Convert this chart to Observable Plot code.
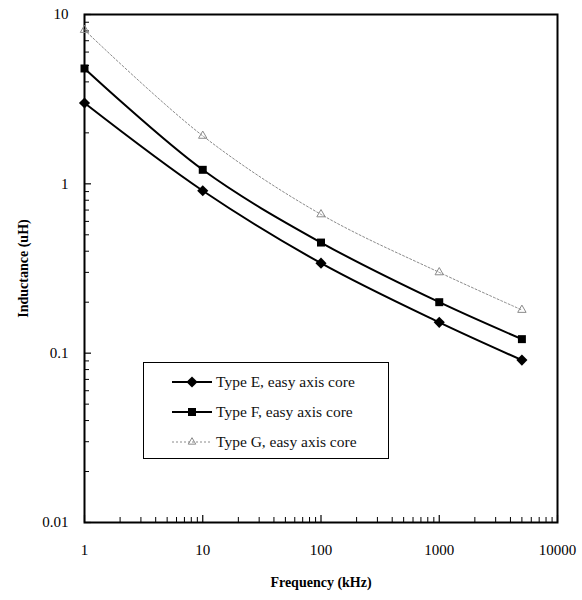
<!DOCTYPE html>
<html>
<head>
<meta charset="utf-8">
<script src="https://cdn.jsdelivr.net/npm/d3@7"></script>
<script src="https://cdn.jsdelivr.net/npm/@observablehq/plot@0.6"></script>
<style>
  html, body { margin: 0; padding: 0; background: #fff; }
  #wrap { position: relative; width: 582px; height: 600px; font-family: "Liberation Serif", serif; }
  #legend { position: absolute; left: 143px; top: 362px; width: 246px; height: 97px;
            border: 1.5px solid #000; background: #fff; box-sizing: border-box; }
  .row { position: absolute; left: 26px; height: 20px; display: flex; align-items: center; font-size: 15.5px; color: #111; }
  .row svg { margin-right: 2px; }
</style>
</head>
<body>
<div id="wrap"></div>
<script>
const freq = [1, 10, 100, 1000, 5000];
const typeE = [3.0, 0.91, 0.34, 0.152, 0.091];
const typeF = [4.8, 1.21, 0.45, 0.20, 0.121];
const typeG = [8.1, 1.92, 0.66, 0.30, 0.18];
const seriesNames = ["Type E, easy axis core", "Type F, easy axis core", "Type G, easy axis core"];
const xTicks = [1, 10, 100, 1000, 10000];
const xTickLabels = ["1", "10", "100", "1000", "10000"];
const yTicks = [0.01, 0.1, 1, 10];
const yTickLabels = ["0.01", "0.1", "1", "10"];

const rows = [];
[typeE, typeF, typeG].forEach((vals, i) => {
  vals.forEach((v, j) => rows.push({series: seriesNames[i], f: freq[j], L: v}));
});
const byS = s => rows.filter(r => r.series === s);

const minorX = [];
for (let d = 1; d < 10000; d *= 10) for (let k = 2; k <= 9; k++) minorX.push(d * k);
const minorY = [];
for (let d = 0.01; d < 10; d *= 10) for (let k = 2; k <= 9; k++) minorY.push(+(d * k).toPrecision(3));

const chart = Plot.plot({
  width: 582,
  height: 600,
  marginLeft: 84,
  marginRight: 25,
  marginTop: 14,
  marginBottom: 78,
  style: {fontFamily: "Liberation Serif, serif", fontSize: "15px", color: "#000", background: "#fff"},
  x: {type: "log", domain: [1, 10000]},
  y: {type: "log", domain: [0.01, 10]},
  marks: [
    Plot.axisX(minorX, {tickSize: -5, text: null, label: null, strokeWidth: 1}),
    Plot.axisY(minorY, {tickSize: -5, text: null, label: null, strokeWidth: 1}),
    Plot.axisX(xTicks, {tickSize: -7, tickPadding: 29, strokeWidth: 1.2,
      tickFormat: d => xTickLabels[xTicks.indexOf(d)],
      label: "Frequency (kHz)", labelAnchor: "center", labelArrow: "none", labelOffset: 64}),
    Plot.axisY(yTicks, {tickSize: -7, tickPadding: 23, strokeWidth: 1.2,
      tickFormat: d => yTickLabels[yTicks.indexOf(d)],
      label: "Inductance (uH)", labelAnchor: "center", labelArrow: "none", labelOffset: 66}),
    Plot.frame({stroke: "#000", strokeWidth: 2}),
    Plot.line(byS(seriesNames[2]), {x: "f", y: "L", stroke: "#8a8a8a", strokeWidth: 1, strokeDasharray: "2,2", curve: "catmull-rom"}),
    Plot.dot(byS(seriesNames[2]), {x: "f", y: "L", symbol: "triangle2", stroke: "#8a8a8a", strokeWidth: 1, r: 4}),
    Plot.line(byS(seriesNames[1]), {x: "f", y: "L", stroke: "#000", strokeWidth: 2, curve: "catmull-rom"}),
    Plot.dot(byS(seriesNames[1]), {x: "f", y: "L", symbol: "square", fill: "#000", r: 4.5}),
    Plot.line(byS(seriesNames[0]), {x: "f", y: "L", stroke: "#000", strokeWidth: 2, curve: "catmull-rom"}),
    Plot.dot(byS(seriesNames[0]), {x: "f", y: "L", symbol: "diamond2", fill: "#000", r: 5})
  ]
});
d3.select(chart).selectAll("[aria-label$='axis label'] text").attr("font-weight", "bold").attr("font-size", 14);
document.getElementById("wrap").appendChild(chart);

// Legend
const leg = document.createElement("div");
leg.id = "legend";
document.getElementById("wrap").appendChild(leg);
const legStyles = [
  {stroke: "#000", sw: 2, dash: null, sym: "diamond2", fill: "#000", col: "#000"},
  {stroke: "#000", sw: 2, dash: null, sym: "square", fill: "#000", col: "#000"},
  {stroke: "#8a8a8a", sw: 1, dash: "2,2", sym: "triangle2", fill: "none", col: "#8a8a8a"}
];
const symMap = {diamond2: d3.symbolDiamond2, square: d3.symbolSquare, triangle2: d3.symbolTriangle2};
seriesNames.forEach((name, i) => {
  const s = legStyles[i];
  const row = document.createElement("div");
  row.className = "row";
  row.style.top = (9 + i * 30) + "px";
  const svg = d3.create("svg").attr("width", 44).attr("height", 20);
  svg.append("line").attr("x1", 2).attr("x2", 42).attr("y1", 10).attr("y2", 10)
    .attr("stroke", s.stroke).attr("stroke-width", s.sw).attr("stroke-dasharray", s.dash);
  const size = i === 2 ? 40 : (i === 0 ? 80 : 64);
  svg.append("path").attr("transform", "translate(22,10)")
    .attr("d", d3.symbol(symMap[s.sym], size)())
    .attr("fill", s.fill).attr("stroke", s.sym === "triangle2" ? s.col : "none");
  row.appendChild(svg.node());
  const t = document.createElement("span");
  t.textContent = name;
  row.appendChild(t);
  leg.appendChild(row);
});
</script>
</body>
</html>
